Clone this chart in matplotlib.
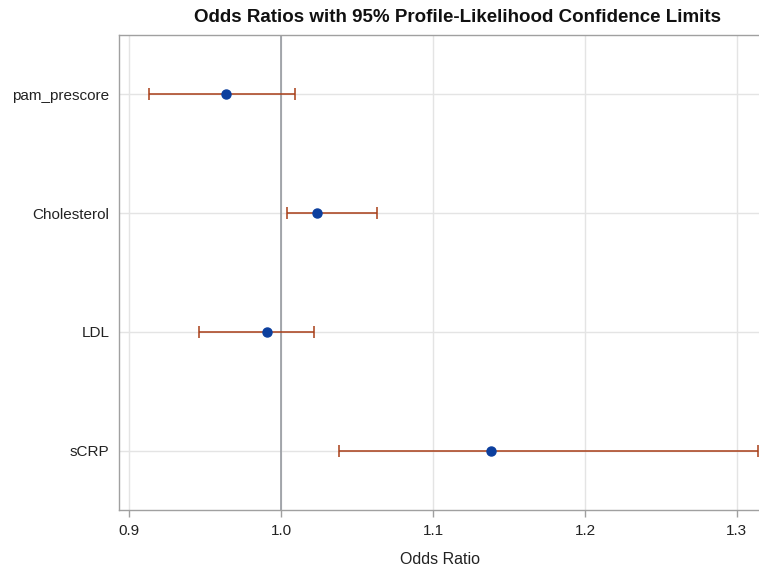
import matplotlib
matplotlib.use("Agg")
import matplotlib.pyplot as plt

plt.rcParams['font.family'] = ['Liberation Sans', 'DejaVu Sans']

# Effects (top to bottom) with odds ratio estimates and 95% profile-likelihood limits
effects = ["pam_prescore", "Cholesterol", "LDL", "sCRP"]
odds_ratio = [0.964, 1.024, 0.991, 1.138]
lower_cl = [0.913, 1.004, 0.946, 1.038]
upper_cl = [1.009, 1.063, 1.022, 1.314]

x_ticks = [0.9, 1.0, 1.1, 1.2, 1.3]
x_tick_labels = ["0.9", "1.0", "1.1", "1.2", "1.3"]

W, H = 759, 568
fig = plt.figure(figsize=(W / 100, H / 100), dpi=100)
fig.patch.set_facecolor("white")

left, right, top, bottom = 119, 762, 35, 510
ax = fig.add_axes([left / W, (H - bottom) / H, (right - left) / W, (bottom - top) / H])

ypos = list(range(len(effects)))
err_lo = [o - l for o, l in zip(odds_ratio, lower_cl)]
err_hi = [u - o for o, u in zip(odds_ratio, upper_cl)]

ax.axvline(1.0, color="#8e9399", lw=1.1, zorder=2)
ax.errorbar(odds_ratio, ypos, xerr=[err_lo, err_hi], fmt="none",
            ecolor="#a83e18", elinewidth=1.1, capsize=4.5, capthick=1.1, zorder=3)
ax.plot(odds_ratio, ypos, "o", color="#0c3f9e", ms=6.5, zorder=4)

ax.set_xlim(0.8934, 1.3165)
ax.set_ylim(len(effects) - 0.5, -0.5)
ax.set_yticks(ypos)
ax.set_yticklabels(effects, fontsize=11, color="#222222")
ax.set_xticks(x_ticks)
ax.set_xticklabels(x_tick_labels, fontsize=11, color="#222222")
ax.tick_params(axis="y", length=0, pad=7)
ax.tick_params(axis="x", length=5, width=1, color="#a0a0a0", pad=5)

ax.grid(True, color="#e4e4e4", lw=1, zorder=0)
ax.set_axisbelow(True)
for s in ax.spines.values():
    s.set_color("#a0a0a0")
    s.set_linewidth(1)

ax.set_xlabel("Odds Ratio", fontsize=11.5, color="#222222", labelpad=10)
fig.text(458 / W, 1 - 17 / H, "Odds Ratios with 95% Profile-Likelihood Confidence Limits",
         ha="center", va="center", fontsize=13.5, fontweight="bold", color="#111111")

fig.savefig("out.png", dpi=100)
